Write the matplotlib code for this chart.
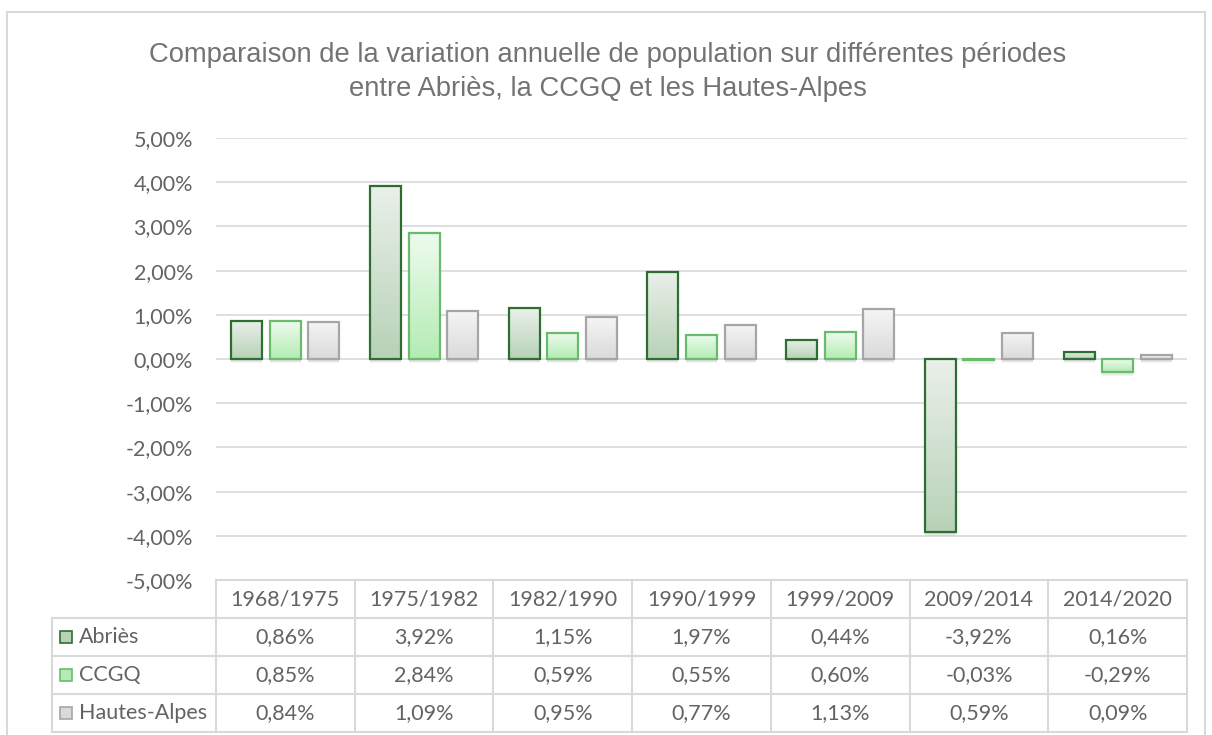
import numpy as np
import matplotlib.pyplot as plt
import matplotlib.transforms as mtransforms
from matplotlib.colors import LinearSegmentedColormap
from matplotlib.patches import Rectangle

# Data (annual variation in %)
periods = ["1968/1975", "1975/1982", "1982/1990", "1990/1999", "1999/2009", "2009/2014", "2014/2020"]
abries = [0.86, 3.92, 1.15, 1.97, 0.44, -3.92, 0.16]
ccgq = [0.85, 2.84, 0.59, 0.55, 0.60, -0.03, -0.29]
hautes_alpes = [0.84, 1.09, 0.95, 0.77, 1.13, 0.59, 0.09]
series_names = ["Abriès", "CCGQ", "Hautes-Alpes"]
series_values = [abries, ccgq, hautes_alpes]

# styles: edge colour, gradient top, gradient bottom
styles = [
    ("#2f6e33", "#eaf0ea", "#b7d2b7"),
    ("#6bbb6e", "#eefbee", "#b3ecb3"),
    ("#a6a6a6", "#f5f5f5", "#dadada"),
]

W, H = 1212, 735
fig = plt.figure(figsize=(W / 100, H / 100), dpi=100)
grey = "#636363"
tick_font = ["Lato", "DejaVu Sans"]
fs = 15.5

# outer chart frame
fig.patches.append(Rectangle((7 / W, -0.05), 1198 / W, 1.05 - 12 / H, transform=fig.transFigure,
                             fill=False, edgecolor="#d9d9d9", linewidth=1.5))

ax = fig.add_axes([216 / W, (H - 580) / H, 971 / W, 442 / H])
x = np.arange(len(periods))
bw = 0.224
step = 0.278

for i, (vals, (ec, c_top, c_bot)) in enumerate(zip(series_values, styles)):
    cmap = LinearSegmentedColormap.from_list("g%d" % i, [c_top, c_bot])
    grad = np.linspace(0, 1, 100).reshape(-1, 1)
    bars = ax.bar(x + (i - 1) * step, vals, bw, facecolor="none", edgecolor=ec,
                  linewidth=1.6, zorder=4)
    for b in bars:
        x0, y0 = b.get_x(), b.get_y()
        w, h = b.get_width(), b.get_height()
        ybot, ytop = min(y0, y0 + h), max(y0, y0 + h)
        im = ax.imshow(grad, cmap=cmap, extent=(x0, x0 + w, ybot, ytop), origin="upper",
                       aspect="auto", zorder=3, interpolation="bicubic")
        im.set_clip_path(b)
        # soft shadow under the bar
        for k, a in enumerate([0.12, 0.10, 0.08]):
            tr = ax.transData + mtransforms.ScaledTranslation(0, -0.015 - 0.012 * k, fig.dpi_scale_trans)
            ax.add_patch(Rectangle((x0, ybot), w, ytop - ybot, transform=tr, facecolor="#7f7f7f",
                                   edgecolor="none", alpha=a, zorder=2))

ax.set_xlim(-0.5, len(periods) - 0.5)
ax.set_ylim(-5, 5)
ax.set_yticks(np.arange(-5, 6, 1))
ax.set_yticklabels([("%.2f%%" % v).replace(".", ",") for v in np.arange(-5, 6, 1)],
                   fontsize=fs, color=grey, family=tick_font)
ax.tick_params(axis="y", length=0, pad=16.5)
ax.set_xticks([])
ax.grid(axis="y", color="#d9d9d9", linewidth=1.2, zorder=0)
ax.set_axisbelow(True)
for s in ax.spines.values():
    s.set_visible(False)

fig.text(608 / W, 1 - 72 / H,
         "Comparaison de la variation annuelle de population sur différentes périodes\n"
         "entre Abriès, la CCGQ et les Hautes-Alpes",
         ha="center", va="center", fontsize=19.7, color="#737373", family="Liberation Sans",
         linespacing=1.45)

# data table below the plot
tax = fig.add_axes([52 / W, (H - 732) / H, (1187 - 52) / W, 152 / H])
colw = 971 / 7
left = -0.5 - 164 / colw
tax.set_xlim(left, len(periods) - 0.5)
tax.set_ylim(4, 0)
tax.axis("off")
line_c = "#d9d9d9"
lw = 1.5
tax.plot([-0.5, len(periods) - 0.5], [0, 0], color=line_c, lw=lw, clip_on=False)
for r in range(1, 5):
    tax.plot([left, len(periods) - 0.5], [r, r], color=line_c, lw=lw, clip_on=False)
tax.plot([left, left], [1, 4], color=line_c, lw=lw, clip_on=False)
for c in range(len(periods) + 1):
    tax.plot([c - 0.5, c - 0.5], [0, 4], color=line_c, lw=lw, clip_on=False)

for c, p in enumerate(periods):
    tax.text(c, 0.5, p, ha="center", va="center", fontsize=fs, color=grey, family=tick_font)
for r, (name, vals, (ec, c_top, c_bot)) in enumerate(zip(series_names, series_values, styles)):
    yc = r + 1.5
    kx = left + 8 / colw
    ks = 12 / colw
    tax.add_patch(Rectangle((kx, yc - 0.16), ks, 0.32, facecolor=c_bot, edgecolor=ec, lw=1.2,
                            clip_on=False))
    tax.text(kx + ks + 7 / colw, yc, name, ha="left", va="center", fontsize=fs,
             color=grey, family=tick_font)
    for c, v in enumerate(vals):
        tax.text(c, yc, ("%.2f%%" % v).replace(".", ","), ha="center", va="center",
                 fontsize=fs, color=grey, family=tick_font)

fig.savefig("out.png", dpi=100)
